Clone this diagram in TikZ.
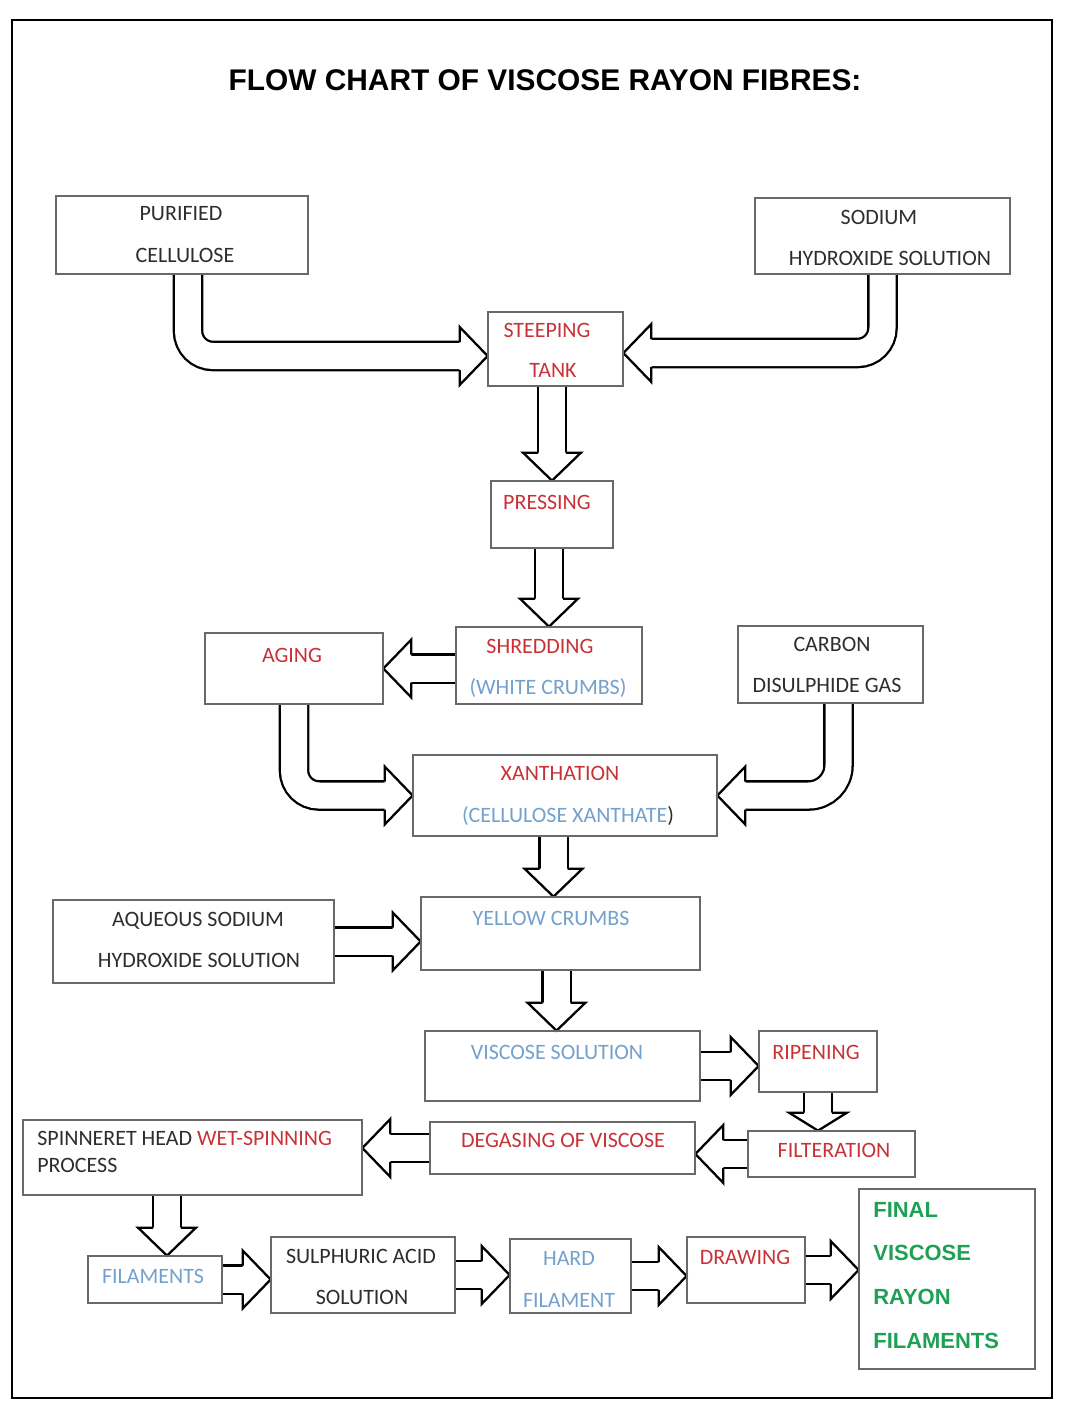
\documentclass[tikz,border=0pt]{standalone}
\usepackage{fontspec}
\setmainfont{Carlito}
\newfontfamily\titlefont{Liberation Sans}
\usetikzlibrary{fit}
\definecolor{redtxt}{RGB}{200,50,55}
\definecolor{bluetxt}{RGB}{115,160,205}
\definecolor{greentxt}{RGB}{30,160,85}
\definecolor{darktxt}{RGB}{45,45,45}
\definecolor{boxline}{RGB}{105,105,105}
\newcommand{\ahead}[3][28]{%
\fill[white,shift={(#2)},rotate=#3] (-#1-2,-12.6) rectangle (-#1+1,12.6);
\draw[headsty,shift={(#2)},rotate=#3] (-#1,-14) -- (-#1,-29) -- (0,0) -- (-#1,29) -- (-#1,14);}
\begin{document}
\begin{tikzpicture}[x=0.02cm,y=-0.02cm,
  box/.style={inner sep=0pt},
  boxfr/.style={draw=boxline,line width=1.1pt},
  txt/.style={inner sep=0pt,text height=8pt,text depth=0pt,font=\fontsize{12.5}{15}\selectfont,text=darktxt},
  redt/.style={txt,text=redtxt},
  bluet/.style={txt,text=bluetxt},
  fin/.style={txt,anchor=west,text=greentxt,text height=9pt,font=\titlefont\bfseries\fontsize{12.5}{15}\selectfont},
  shaft/.style={line width=1.3pt,double=white,double distance=0.52cm,rounded corners=0.5cm,shorten >=0.56cm},
  headsty/.style={line width=1.3pt,fill=white,line join=miter}]
\useasboundingbox (0,0) rectangle (1080,1404);
\node[draw,line width=1.2pt,inner sep=0pt,fit={(12,20) (1052,1398)}] (frame) {};
\node[inner sep=0pt,text height=12.2pt,text depth=0pt,font=\titlefont\bfseries\fontsize{17}{20}\selectfont] (title) at (545,80) {FLOW CHART OF VISCOSE RAYON FIBRES:};

\node[box,fit={(56,196) (308,274)}] (purif) {};
\node[box,fit={(755,198) (1010,274)}] (sod) {};
\node[box,fit={(488,312) (623,386)}] (steep) {};
\node[box,fit={(491,481) (613,548)}] (press) {};
\node[box,fit={(456,627) (642,704)}] (shred) {};
\node[box,fit={(205,633) (383,704)}] (aging) {};
\node[box,fit={(738,626) (923,703)}] (carb) {};
\node[box,fit={(413,755) (717,836)}] (xanth) {};
\node[box,fit={(53,900) (334,983)}] (aq) {};
\node[box,fit={(421,897) (700,970)}] (yel) {};
\node[box,fit={(425,1031) (700,1101)}] (visc) {};
\node[box,fit={(759,1031) (877,1092)}] (rip) {};
\node[box,fit={(748,1131) (915,1177)}] (filt) {};
\node[box,fit={(430,1122) (695,1174)}] (degas) {};
\node[box,fit={(23,1120) (362,1195)}] (spin) {};
\node[box,fit={(88,1256) (222,1303)}] (fil) {};
\node[box,fit={(271,1237) (455,1313)}] (sulph) {};
\node[box,fit={(510,1239) (631,1313)}] (hard) {};
\node[box,fit={(687,1237) (805,1303)}] (drawg) {};
\node[box,fit={(859,1189) (1035,1369)}] (final) {};

\coordinate (t1) at ([shift={(0,7)}]steep.west);
\draw[shaft] ([shift={(6,0)}]purif.south) |- (t1);
\ahead{t1}{0}
\coordinate (t2) at ([shift={(0,4)}]steep.east);
\draw[shaft] (sod.south) |- (t2);
\ahead{t2}{180}
\draw[shaft] (steep.south -| press.north) -- (press.north);
\ahead{press.north}{-90}
\draw[shaft] (press.south -| shred.north) -- (shred.north);
\ahead{shred.north}{-90}
\draw[shaft] (shred.west |- aging.east) -- (aging.east);
\ahead{aging.east}{180}
\draw[shaft] (aging.south) |- (xanth.west);
\ahead{xanth.west}{0}
\draw[shaft,rounded corners=0.6cm] ([shift={(8,0)}]carb.south) |- (xanth.east);
\ahead{xanth.east}{180}
\coordinate (t3) at ([shift={(-7,0)}]yel.north);
\draw[shaft] (xanth.south -| t3) -- (t3);
\ahead{t3}{-90}
\coordinate (t4) at ([shift={(-6,0)}]visc.north);
\draw[shaft] (yel.south -| t4) -- (t4);
\ahead{t4}{-90}
\coordinate (t5) at (aq.east -| yel.west);
\draw[shaft] (aq.east) -- (t5);
\ahead{t5}{0}
\coordinate (t6) at (visc.east -| rip.west);
\draw[shaft] (visc.east) -- (t6);
\ahead{t6}{0}
\coordinate (t7) at (rip.south |- filt.north);
\draw[shaft,shorten >=0.36cm] (rip.south) -- (t7);
\ahead[18]{t7}{-90}
\coordinate (t8) at (filt.west -| degas.east);
\draw[shaft] (filt.west) -- (t8);
\ahead{t8}{180}
\coordinate (t9) at (degas.west -| spin.east);
\draw[shaft] (degas.west) -- (t9);
\ahead{t9}{180}
\coordinate (t10) at ([shift={(12,0)}]fil.north);
\draw[shaft] (spin.south -| t10) -- (t10);
\ahead{t10}{-90}
\coordinate (t11) at (fil.east -| sulph.west);
\draw[shaft] (fil.east) -- (t11);
\ahead{t11}{0}
\coordinate (t12) at (sulph.east -| hard.west);
\draw[shaft] (sulph.east) -- (t12);
\ahead{t12}{0}
\coordinate (t13) at (hard.east -| drawg.west);
\draw[shaft] (hard.east) -- (t13);
\ahead{t13}{0}
\coordinate (t14) at (drawg.east -| final.west);
\draw[shaft] (drawg.east) -- (t14);
\ahead{t14}{0}

\foreach \b in {purif,sod,steep,press,shred,aging,carb,xanth,aq,yel,visc,rip,filt,degas,spin,fil,sulph,hard,drawg,final}
  \draw[boxfr] (\b.north west) rectangle (\b.south east);

\node[txt] (purifa) at (181,213) {PURIFIED};
\node[txt] (purifb) at (185,255) {CELLULOSE};
\node[txt] (soda) at (879,217) {SODIUM};
\node[txt] (sodb) at (890,258) {HYDROXIDE SOLUTION};
\node[redt] (steepa) at (547,330) {STEEPING};
\node[redt] (steepb) at (553,370) {TANK};
\node[redt] (pressa) at (547,502) {PRESSING};
\node[redt] (shreda) at (540,646) {SHREDDING};
\node[bluet] (shredb) at (548,687) {(WHITE CRUMBS)};
\node[redt] (aginga) at (292,655) {AGING};
\node[txt] (carba) at (832,644) {CARBON};
\node[txt] (carbb) at (827,685) {DISULPHIDE GAS};
\node[redt] (xantha) at (560,773) {XANTHATION};
\node[bluet] (xanthb) at (568,815) {(CELLULOSE XANTHATE\textcolor{darktxt}{)}};
\node[txt] (aqa) at (198,919) {AQUEOUS SODIUM};
\node[txt] (aqb) at (199,960) {HYDROXIDE SOLUTION};
\node[bluet] (yela) at (551,918) {YELLOW CRUMBS};
\node[bluet] (visca) at (557,1052) {VISCOSE SOLUTION};
\node[redt] (ripa) at (816,1052) {RIPENING};
\node[redt] (filta) at (834,1150) {FILTERATION};
\node[redt] (degasa) at (563,1140) {DEGASING OF VISCOSE};
\node[txt,anchor=west] (spina) at (37,1138) {SPINNERET HEAD \textcolor{redtxt}{WET-SPINNING}};
\node[txt,anchor=west] (spinb) at (37,1165) {PROCESS};
\node[bluet] (fila) at (153,1276) {FILAMENTS};
\node[txt] (sulpha) at (361,1256) {SULPHURIC ACID};
\node[txt] (sulphb) at (362,1297) {SOLUTION};
\node[bluet] (harda) at (569,1258) {HARD};
\node[bluet] (hardb) at (569,1300) {FILAMENT};
\node[redt] (drawa) at (745,1257) {DRAWING};
\node[fin] (fina) at (873,1210) {FINAL};
\node[fin] (finb) at (873,1253) {VISCOSE};
\node[fin] (finc) at (873,1297) {RAYON};
\node[fin] (find) at (873,1341) {FILAMENTS};
\end{tikzpicture}
\end{document}
